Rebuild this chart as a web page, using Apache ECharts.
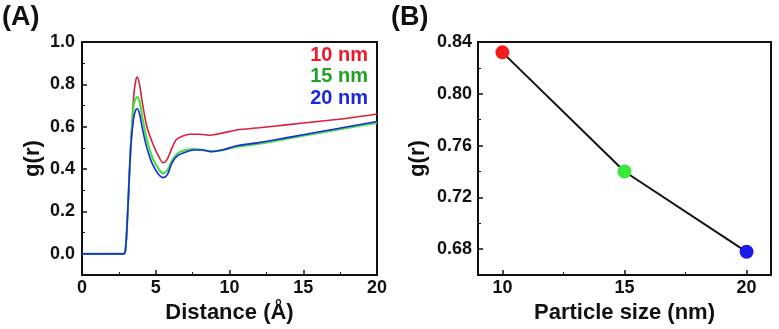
<!DOCTYPE html>
<html>
<head>
<meta charset="utf-8">
<script src="https://cdn.jsdelivr.net/npm/echarts@6/dist/echarts.min.js"></script>
<style>
  html, body { margin: 0; padding: 0; background: #fff; }
  #chart { width: 779px; height: 329px; }
</style>
</head>
<body>
<div id="chart"></div>
<script>
// panel A: g(r) vs distance
const gr10 = [[0,0],[2.8,0],[2.95,0.02],[3.1,0.2],[3.3,0.5],[3.5,0.74],[3.65,0.82],[3.75,0.835],[3.9,0.8],[4.1,0.71],[4.4,0.6],[4.8,0.52],[5.2,0.46],[5.5,0.43],[5.8,0.45],[6.1,0.5],[6.4,0.54],[6.8,0.555],[7.3,0.565],[8,0.565],[8.7,0.56],[9.5,0.57],[10.5,0.585],[12,0.595],[14,0.61],[16,0.625],[18,0.64],[20,0.66]]
const gr15 = [[0,0],[2.8,0],[2.95,0.02],[3.1,0.2],[3.3,0.5],[3.5,0.7],[3.65,0.735],[3.75,0.74],[3.9,0.72],[4.1,0.64],[4.4,0.54],[4.8,0.45],[5.2,0.4],[5.5,0.38],[5.8,0.395],[6.1,0.44],[6.5,0.475],[7,0.49],[7.6,0.495],[8.2,0.49],[8.8,0.485],[9.5,0.49],[10.5,0.505],[12,0.52],[14,0.545],[16,0.57],[18,0.595],[20,0.618]]
const gr20 = [[0,0],[2.8,0],[2.95,0.02],[3.1,0.2],[3.3,0.5],[3.5,0.64],[3.65,0.68],[3.75,0.685],[3.9,0.66],[4.1,0.59],[4.4,0.5],[4.8,0.42],[5.2,0.375],[5.5,0.36],[5.8,0.375],[6.1,0.43],[6.5,0.465],[7,0.48],[7.6,0.49],[8.2,0.49],[8.8,0.482],[9.5,0.49],[10.5,0.51],[12,0.525],[14,0.55],[16,0.575],[18,0.6],[20,0.625]]

// panel B: peak height vs particle size
const sizes = [10, 15, 20]
const peaks = [0.832, 0.740, 0.678]
const dotColors = ['#f41c1c', '#3ae83a', '#1c1ce8']

const labelsA = ['10 nm', '15 nm', '20 nm']
const textColorsA = ['#ee1a2c', '#22a022', '#1c28e0']
const lineColorsA = ['#d8203c', '#46e046', '#1c28e0']

const yTicksA = [0, 0.2, 0.4, 0.6, 0.8, 1.0]
const yMinorA = [0.1, 0.3, 0.5, 0.7, 0.9]
const yTicksB = [0.68, 0.72, 0.76, 0.80, 0.84]
const yMinorB = [0.66, 0.70, 0.74, 0.78, 0.82]
const xTicksB = [10, 15, 20]
const xMinorB = [12.5, 17.5]

const font = 'Liberation Sans'
var chart = echarts.init(document.getElementById('chart'))

function axisBase(extra) {
  return Object.assign({
    axisLine: { show: true, onZero: false, lineStyle: { color: '#111', width: 2 } },
    splitLine: { show: false },
    axisTick: { inside: true, length: 5, lineStyle: { color: '#111', width: 1.5 } },
    axisLabel: { color: '#111', fontFamily: font, fontWeight: 'bold', fontSize: 18 },
    nameTextStyle: { color: '#111', fontFamily: font, fontWeight: 'bold', fontSize: 22 }
  }, extra)
}

var option = {
  animation: false,
  grid: [
    { left: 82, right: 402, top: 42, bottom: 53, show: true, borderColor: '#111', borderWidth: 2 },
    { left: 478, right: 8, top: 42, bottom: 53, show: true, borderColor: '#111', borderWidth: 2 }
  ],
  xAxis: [
    axisBase({ gridIndex: 0, type: 'value', min: 0, max: 20, interval: 5,
      minorTick: { show: true, splitNumber: 2, length: 3, lineStyle: { color: '#111' } },
      name: 'Distance (Å)', nameLocation: 'middle', nameGap: 24,
      axisLabel: { color: '#111', fontFamily: font, fontWeight: 'bold', fontSize: 18, margin: 4 } }),
    axisBase({ gridIndex: 1, type: 'value', min: 9, max: 21,
      axisTick: { inside: true, length: 5, customValues: xTicksB, lineStyle: { color: '#111', width: 1.5 } },
      axisLabel: { color: '#111', fontFamily: font, fontWeight: 'bold', fontSize: 18, margin: 4, customValues: xTicksB },
      name: 'Particle size (nm)', nameLocation: 'middle', nameGap: 24 }),
    axisBase({ gridIndex: 1, type: 'value', min: 9, max: 21, position: 'bottom',
      axisLabel: { show: false },
      axisTick: { inside: true, length: 3, customValues: xMinorB, lineStyle: { color: '#111' } } })
  ],
  yAxis: [
    axisBase({ gridIndex: 0, type: 'value', min: -0.1, max: 1.0, position: 'left',
      axisTick: { inside: true, length: 5, customValues: yTicksA, lineStyle: { color: '#111', width: 1.5 } },
      axisLabel: { color: '#111', fontFamily: font, fontWeight: 'bold', fontSize: 18, margin: 7,
        customValues: yTicksA, formatter: v => v.toFixed(1) },
      name: 'g(r)', nameLocation: 'middle', nameGap: 38 }),
    axisBase({ gridIndex: 0, type: 'value', min: -0.1, max: 1.0, position: 'left',
      axisLabel: { show: false },
      axisTick: { inside: true, length: 3, customValues: yMinorA, lineStyle: { color: '#111' } } }),
    axisBase({ gridIndex: 1, type: 'value', min: 0.66, max: 0.84, position: 'left',
      axisTick: { inside: true, length: 5, customValues: yTicksB, lineStyle: { color: '#111', width: 1.5 } },
      axisLabel: { color: '#111', fontFamily: font, fontWeight: 'bold', fontSize: 18, margin: 6,
        customValues: yTicksB, formatter: v => v.toFixed(2) },
      name: 'g(r)', nameLocation: 'middle', nameGap: 49 }),
    axisBase({ gridIndex: 1, type: 'value', min: 0.66, max: 0.84, position: 'left',
      axisLabel: { show: false },
      axisTick: { inside: true, length: 3, customValues: yMinorB, lineStyle: { color: '#111' } } })
  ],
  series: [
    { type: 'line', xAxisIndex: 0, yAxisIndex: 0, data: gr10, showSymbol: false, smooth: 0.3,
      lineStyle: { color: lineColorsA[0], width: 1.6 }, z: 2 },
    { type: 'line', xAxisIndex: 0, yAxisIndex: 0, data: gr15, showSymbol: false, smooth: 0.3,
      lineStyle: { color: lineColorsA[1], width: 2.2 }, z: 3 },
    { type: 'line', xAxisIndex: 0, yAxisIndex: 0, data: gr20, showSymbol: false, smooth: 0.3,
      lineStyle: { color: lineColorsA[2], width: 1.6 }, z: 4 },
    { type: 'line', xAxisIndex: 1, yAxisIndex: 2,
      data: sizes.map((s, i) => ({ value: [s, peaks[i]], itemStyle: { color: dotColors[i] } })),
      symbol: 'circle', symbolSize: 14, showSymbol: true,
      lineStyle: { color: '#111', width: 2 }, itemStyle: { borderWidth: 0 } }
  ],
  graphic: [
    { type: 'text', left: 2, top: 4, style: { text: '(A)', fontFamily: font, fontWeight: 'bold', fontSize: 27, fill: '#111' } },
    { type: 'text', left: 391, top: 4, style: { text: '(B)', fontFamily: font, fontWeight: 'bold', fontSize: 27, fill: '#111' } }
  ].concat(labelsA.map((t, i) => ({
    type: 'text', right: 411, top: 45 + i * 21.5,
    style: { text: t, fontFamily: font, fontWeight: 'bold', fontSize: 20, fill: textColorsA[i] }
  })))
}

chart.setOption(option)
</script>
</body>
</html>
